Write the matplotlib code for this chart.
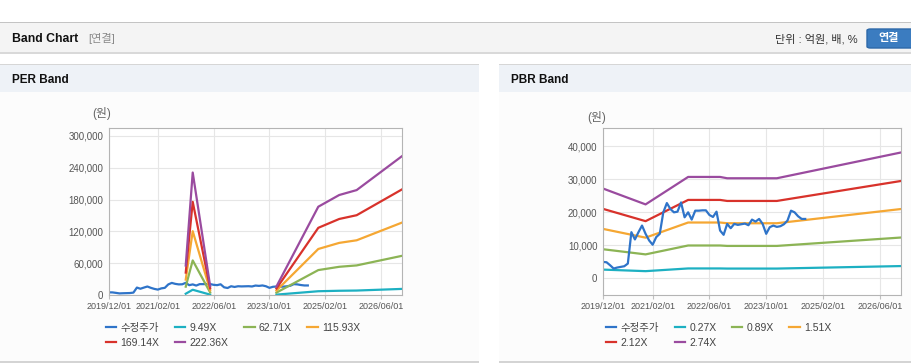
import matplotlib.pyplot as plt
from matplotlib.patches import Rectangle, FancyBboxPatch
from matplotlib.ticker import FuncFormatter

plt.rcParams['font.family'] = ['Liberation Sans', 'Noto Sans CJK KR']

# ==========================================
# DATA  (x = months since 2019/12)
# ==========================================

tick_months = [0, 14, 30, 46, 62, 78]
tick_labels = ["2019/12/01", "2021/02/01", "2022/06/01",
               "2023/10/01", "2025/02/01", "2026/06/01"]

price_months = list(range(58))
price = [5000, 4900, 4000, 3000, 3300, 3500, 3700, 4500, 14000, 11800,
         14000, 16000, 13500, 11500, 10200, 12500, 13500, 20000, 22800, 21000,
         20000, 20200, 23000, 18500, 20000, 17800, 20500, 20500, 20600, 20600,
         19200, 18600, 20200, 14500, 13200, 16500, 15200, 16500, 16200, 16400,
         16600, 16100, 17800, 17200, 18000, 16500, 13500, 15500, 16000, 15600,
         15800, 16400, 17500, 20500, 20000, 18800, 18000, 18000]

per_labels = ["9.49X", "62.71X", "115.93X", "169.14X", "222.36X"]
per_months_a = [22, 24, 29]
per_bands_a = [
    [2400, 9900, 700],
    [15700, 65200, 4700],
    [29000, 120400, 8700],
    [42300, 175700, 12700],
    [55600, 231000, 16700],
]
per_months_b = [48, 60, 66, 71, 84]
per_bands_b = [
    [700, 7100, 8000, 8400, 11500],
    [4500, 47000, 53200, 55800, 73900],
    [8300, 86800, 98300, 103200, 136600],
    [12200, 126700, 143400, 150500, 199200],
    [16000, 166500, 188600, 197900, 261900],
]

pbr_labels = ["0.27X", "0.89X", "1.51X", "2.12X", "2.74X"]
pbr_months = [0, 12, 24, 33, 35, 49, 84]
pbr_bands = [
    [2680, 2210, 3030, 3030, 2990, 2990, 3750],
    [8840, 7280, 9970, 9970, 9840, 9840, 12380],
    [14990, 12340, 16920, 16920, 16700, 16700, 21000],
    [21050, 17330, 23750, 23750, 23440, 23440, 29480],
    [27200, 22400, 30700, 30700, 30300, 30300, 38100],
]

price_color = "#2f74c9"
band_colors = ["#1db0c2", "#8cb455", "#f5a733", "#d8322b", "#9a4b9f"]

W, H = 912, 364

fig = plt.figure(figsize=(W / 100, H / 100), dpi=100)
fig.patch.set_facecolor("white")


def box(x, y, w, h, color, z=-2):
    fig.add_artist(Rectangle((x / W, 1 - (y + h) / H), w / W, h / H,
                             transform=fig.transFigure, facecolor=color,
                             edgecolor="none", zorder=z))


def ftext(x, y, s, **kw):
    fig.text(x / W, 1 - y / H, s, **kw)


# ==========================================
# PAGE HEADER
# ==========================================

box(0, 22, W, 1, "#c4c4c4")
box(0, 23, W, 29, "#f4f4f4")
box(0, 52, W, 2, "#d9d9d9")
ftext(12, 39, "Band Chart", fontsize=8.8, fontweight="bold", va="center", color="#111111")
ftext(88, 39, "[연결]", fontsize=8, va="center", color="#8a8a8a")
ftext(858, 39, "단위 : 억원, 배, %", fontsize=8, va="center", ha="right", color="#333333")
fig.add_artist(FancyBboxPatch((867 / W, 1 - 48 / H), 50 / W, 19 / H,
                              boxstyle="round,pad=0,rounding_size=0.004",
                              transform=fig.transFigure, facecolor="#3b7cc0",
                              edgecolor="#2d68a8", zorder=-1))
ftext(889, 38.5, "연결", fontsize=8, fontweight="bold", va="center", ha="center", color="white")

# ==========================================
# PANELS
# ==========================================

panels = [
    (0, 479, "PER Band"),
    (499, W - 499, "PBR Band"),
]
for px, pw, title in panels:
    box(px, 64, pw, 1, "#d6d6d6")
    box(px, 65, pw, 27, "#eef2f7")
    box(px, 92, pw, 269, "#fcfcfc")
    box(px, 361, pw, 2, "#d4d4d4")
    ftext(px + 12, 80, title, fontsize=8.5, fontweight="bold", va="center", color="#111111")


def style_axes(ax, ylim, yticks):
    ax.set_facecolor("white")
    ax.set_xlim(0, 84)
    ax.set_ylim(*ylim)
    ax.set_xticks(tick_months)
    ax.set_xticklabels(tick_labels)
    ax.set_yticks(yticks)
    ax.yaxis.set_major_formatter(FuncFormatter(lambda v, p: f"{int(v):,}"))
    ax.grid(True, color="#e6e6e6", linewidth=0.8)
    ax.set_axisbelow(True)
    for s in ax.spines.values():
        s.set_color("#b4b4b4")
        s.set_linewidth(0.8)
    ax.tick_params(axis="x", length=3, color="#c0c0c0", labelsize=6.5,
                   labelcolor="#555555", pad=2)
    ax.tick_params(axis="y", length=0, labelsize=7, labelcolor="#555555", pad=4)


def add_legend(handles, x0):
    # matplotlib fills columns first: reorder so it reads row by row
    order = [0, 4, 1, 5, 2, 3]
    hs = [handles[i] for i in order]
    leg = fig.legend(handles=hs, labels=[h.get_label() for h in hs],
                     loc="upper left", bbox_to_anchor=(x0 / W, 1 - 323 / H),
                     bbox_transform=fig.transFigure, ncol=4, frameon=False,
                     fontsize=7.5, handlelength=1.0, handletextpad=0.4,
                     columnspacing=1.5, labelspacing=0.45, borderpad=0,
                     borderaxespad=0)
    for t in leg.get_texts():
        t.set_color("#444444")


# ==========================================
# PER BAND
# ==========================================

ax1 = fig.add_axes([109 / W, 1 - 295 / H, 293 / W, 167 / H])
style_axes(ax1, (0, 315000), [0, 60000, 120000, 180000, 240000, 300000])
handles = [ax1.plot(price_months, price, color=price_color, lw=1.6, label="수정주가")[0]]
for vals_a, vals_b, c, lab in zip(per_bands_a, per_bands_b, band_colors, per_labels):
    ax1.plot(per_months_a, vals_a, color=c, lw=1.6)
    handles.append(ax1.plot(per_months_b, vals_b, color=c, lw=1.6, label=lab)[0])
ftext(102, 113, "(원)", fontsize=8.5, ha="center", va="center", color="#666666")
add_legend(handles, 106)

# ==========================================
# PBR BAND
# ==========================================

ax2 = fig.add_axes([603 / W, 1 - 295 / H, 298 / W, 167 / H])
style_axes(ax2, (-5000, 45500), [0, 10000, 20000, 30000, 40000])
handles = []
for vals, c, lab in zip(pbr_bands, band_colors, pbr_labels):
    handles.append(ax2.plot(pbr_months, vals, color=c, lw=1.6, label=lab)[0])
handles.insert(0, ax2.plot(price_months, price, color=price_color, lw=1.6, label="수정주가")[0])
ftext(597, 117, "(원)", fontsize=8.5, ha="center", va="center", color="#666666")
add_legend(handles, 606)

plt.savefig("out.png", dpi=100)
plt.close()
